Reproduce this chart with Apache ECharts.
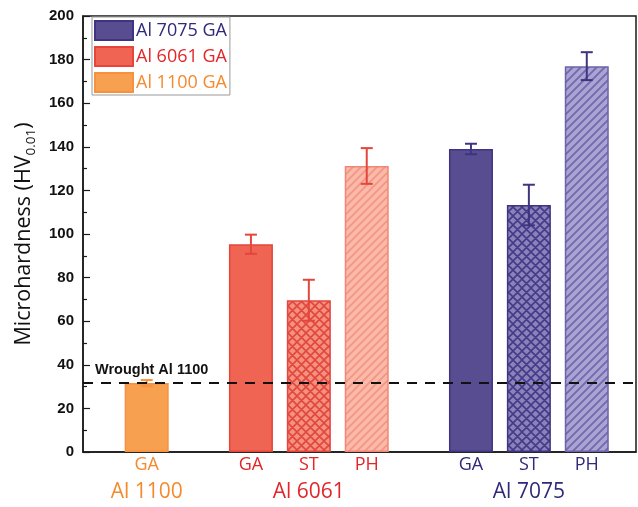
<!DOCTYPE html>
<html>
<head>
<meta charset="utf-8">
<script src="https://cdn.jsdelivr.net/npm/echarts@6/dist/echarts.min.js"></script>
<style>html,body{margin:0;padding:0;background:#fff}#c{width:638px;height:507px}</style>
</head>
<body>
<div id="c"></div>
<script>
// ---- data ----
const alloys = ['Al 1100', 'Al 6061', 'Al 7075'];
const legendNames = ['Al 7075 GA', 'Al 6061 GA', 'Al 1100 GA'];
const x1100 = [0];
const x6061 = [1.8, 2.8, 3.8];
const x7075 = [5.6, 6.6, 7.6];
const lab1100 = ['GA'];
const lab6061 = ['GA', 'ST', 'PH'];
const lab7075 = ['GA', 'ST', 'PH'];
const val1100 = [31.6];
const val6061 = [95.3, 69.6, 131.2];
const val7075 = [139.0, 113.3, 177.0];
const err1100 = [1.4];
const err6061 = [4.4, 9.4, 8.2];
const err7075 = [2.4, 9.3, 6.4];
const wrought = 31.6;
const yTicks = [0, 20, 40, 60, 80, 100, 120, 140, 160, 180, 200];

function hatch(bg, fg, cross, s, lw) {
  const c = document.createElement('canvas');
  c.width = s; c.height = s;
  const g = c.getContext('2d');
  g.fillStyle = bg; g.fillRect(0, 0, s, s);
  g.strokeStyle = fg; g.lineWidth = lw; g.lineCap = 'square';
  g.beginPath();
  g.moveTo(0, s); g.lineTo(s, 0);
  g.moveTo(-2, 2); g.lineTo(2, -2);
  g.moveTo(s - 2, s + 2); g.lineTo(s + 2, s - 2);
  if (cross) {
    g.moveTo(0, 0); g.lineTo(s, s);
    g.moveTo(-2, s - 2); g.lineTo(2, s + 2);
    g.moveTo(s - 2, -2); g.lineTo(s + 2, 2);
  }
  g.stroke();
  return { image: c, repeat: 'repeat' };
}

const C = {
  '1100': { fill: '#f7a050', border: '#f5913f', text: '#f5892e' },
  '6061': { fill: '#f06453', border: '#e4463c', text: '#e2262a' },
  '7075': { fill: '#584d90', border: '#3e3582', text: '#2f2a7a' }
};
const styles6061 = [
  { color: C['6061'].fill, borderColor: C['6061'].border },
  { color: hatch('#f4917f', '#e2473e', true, 9, 1.6), borderColor: C['6061'].border },
  { color: hatch('#fbbaa9', '#f39584', false, 8, 1.8), borderColor: '#f28676' }
];
const styles7075 = [
  { color: C['7075'].fill, borderColor: C['7075'].border },
  { color: hatch('#8a82ba', '#443a88', true, 9, 1.6), borderColor: C['7075'].border },
  { color: hatch('#aba4d3', '#7168ad', false, 8, 1.8), borderColor: '#6c63aa' }
];

function barData(xs, vs, st) {
  return xs.map((x, i) => ({ value: [x, vs[i]], itemStyle: st ? st[i] : undefined }));
}
function errData(xs, vs, es, col) {
  return xs.map((x, i) => ({ value: [x, vs[i], es[i]], col: col }));
}
const errAll = [].concat(
  errData(x1100, val1100, err1100, C['1100'].border),
  errData(x6061, val6061, err6061, C['6061'].border),
  errData(x7075, val7075, err7075, C['7075'].border)
);
const subLabels = [].concat(
  x1100.map((x, i) => ({ value: [x, 0], t: lab1100[i], col: C['1100'].text })),
  x6061.map((x, i) => ({ value: [x, 0], t: lab6061[i], col: C['6061'].text })),
  x7075.map((x, i) => ({ value: [x, 0], t: lab7075[i], col: C['7075'].text }))
);
const groupLabels = [
  { value: [x1100[0], 0], t: alloys[0], col: C['1100'].text },
  { value: [x6061[1], 0], t: alloys[1], col: C['6061'].text },
  { value: [x7075[1], 0], t: alloys[2], col: C['7075'].text }
];

const chart = echarts.init(document.getElementById('c'), null, { renderer: 'canvas' });
const base = { type: 'bar', barWidth: 44, barGap: '-100%', itemStyle: { borderWidth: 1.5 } };

chart.setOption({
  animation: false,
  grid: { left: 83, right: 2, top: 16, bottom: 55, show: true, borderColor: '#1a1a1a', borderWidth: 1.5, backgroundColor: 'transparent' },
  legend: {
    orient: 'vertical', left: 92, top: 17,
    icon: 'rect',
    itemWidth: 38, itemHeight: 19, itemGap: 5,
    padding: [3, 3, 2, 2],
    borderColor: '#999', borderWidth: 1, backgroundColor: '#fff',
    textStyle: { fontFamily: 'Open Sans', fontSize: 18, padding: [0, 0, 0, -2] },
    data: [
      { name: legendNames[0], textStyle: { color: C['7075'].text } },
      { name: legendNames[1], textStyle: { color: C['6061'].text } },
      { name: legendNames[2], textStyle: { color: C['1100'].text } }
    ]
  },
  xAxis: {
    type: 'value', min: -1.1, max: 8.45,
    axisLine: { show: true, onZero: false, lineStyle: { color: '#1a1a1a', width: 1.5 } },
    axisTick: { show: false }, axisLabel: { show: false }, splitLine: { show: false }
  },
  yAxis: {
    type: 'value', min: yTicks[0], max: yTicks[yTicks.length - 1], interval: 20,
    name: '{a|Microhardness (HV}{b|0.01}{a|)}',
    nameLocation: 'middle', nameGap: 45,
    nameTextStyle: {
      rich: {
        a: { fontFamily: 'Open Sans', fontSize: 21.5, color: '#111', lineHeight: 28 },
        b: { fontFamily: 'Open Sans', fontSize: 13.5, color: '#111', verticalAlign: 'bottom', lineHeight: 20 }
      }
    },
    axisLine: { show: true, onZero: false, lineStyle: { color: '#1a1a1a', width: 1.5 } },
    axisTick: { show: true, inside: true, length: 7, lineStyle: { color: '#1a1a1a', width: 1.2 } },
    minorTick: { show: true, splitNumber: 2, length: 4, lineStyle: { color: '#1a1a1a', width: 1.2 } },
    axisLabel: { fontFamily: 'Liberation Sans', fontWeight: 'bold', fontSize: 15, color: '#111', margin: 9 },
    splitLine: { show: false }
  },
  series: [
    Object.assign({}, base, {
      name: legendNames[0], z: 2,
      itemStyle: { color: C['7075'].fill, borderColor: C['7075'].border, borderWidth: 1.5 },
      data: barData(x7075, val7075, styles7075)
    }),
    Object.assign({}, base, {
      name: legendNames[1], z: 2,
      itemStyle: { color: C['6061'].fill, borderColor: C['6061'].border, borderWidth: 1.5 },
      data: barData(x6061, val6061, styles6061)
    }),
    Object.assign({}, base, {
      name: legendNames[2], z: 2,
      itemStyle: { color: C['1100'].fill, borderColor: C['1100'].border, borderWidth: 1.5 },
      data: barData(x1100, val1100, null),
      markLine: {
        silent: true, symbol: 'none', z: 5,
        lineStyle: { color: '#111', width: 2, type: [10, 8] },
        label: {
          show: true, position: 'insideStartTop', formatter: 'Wrought Al 1100',
          fontFamily: 'Liberation Sans', fontWeight: 'bold', fontSize: 14.5, color: '#111',
          distance: [12, 6]
        },
        data: [{ yAxis: wrought }]
      }
    }),
    {
      type: 'custom', z: 4, clip: false, silent: true,
      data: errAll,
      renderItem: function (params, api) {
        const d = errAll[params.dataIndex];
        const x = api.value(0), v = api.value(1), e = api.value(2);
        const top = api.coord([x, v + e]);
        const bot = api.coord([x, v - e]);
        const st = { stroke: d.col, lineWidth: 2 };
        return {
          type: 'group', children: [
            { type: 'line', shape: { x1: top[0], y1: top[1], x2: bot[0], y2: bot[1] }, style: st },
            { type: 'line', shape: { x1: top[0] - 6, y1: top[1], x2: top[0] + 6, y2: top[1] }, style: st },
            { type: 'line', shape: { x1: bot[0] - 6, y1: bot[1], x2: bot[0] + 6, y2: bot[1] }, style: st }
          ]
        };
      }
    },
    {
      type: 'custom', z: 4, clip: false, silent: true,
      data: subLabels,
      renderItem: function (params, api) {
        const d = subLabels[params.dataIndex];
        const p = api.coord([api.value(0), 0]);
        return { type: 'text', x: p[0], y: p[1] + 13, style: { text: d.t, fill: d.col, fontFamily: 'Open Sans', fontSize: 18, align: 'center', verticalAlign: 'middle' } };
      }
    },
    {
      type: 'custom', z: 4, clip: false, silent: true,
      data: groupLabels,
      renderItem: function (params, api) {
        const d = groupLabels[params.dataIndex];
        const p = api.coord([api.value(0), 0]);
        return { type: 'text', x: p[0], y: p[1] + 40, style: { text: d.t, fill: d.col, fontFamily: 'Open Sans', fontSize: 21, align: 'center', verticalAlign: 'middle' } };
      }
    }
  ]
});
</script>
</body>
</html>
